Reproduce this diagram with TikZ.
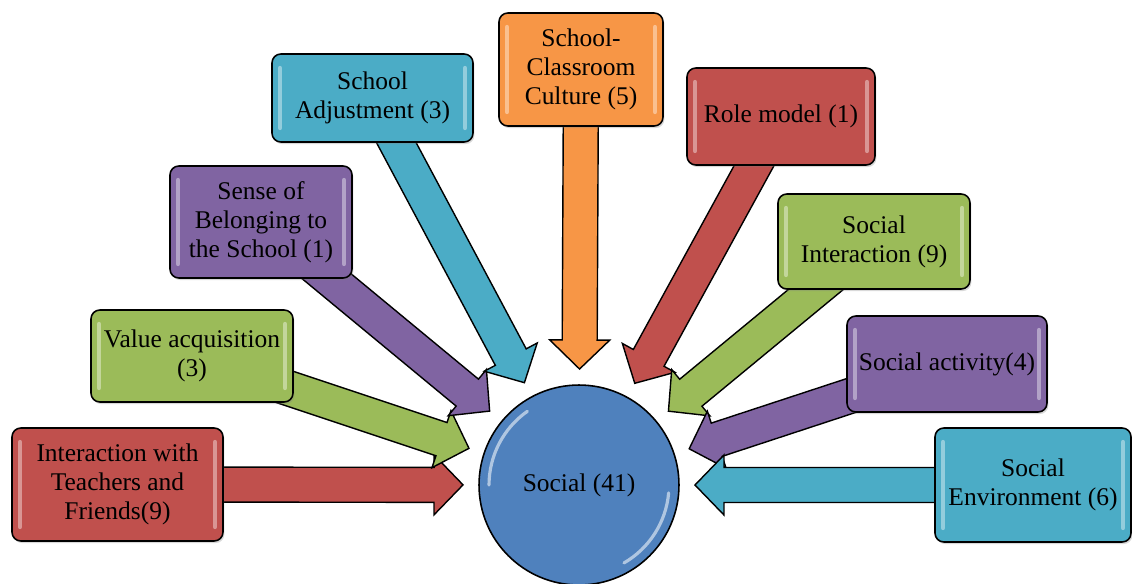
\documentclass[tikz,border=0pt]{standalone}
\usepackage{fontspec}
\setmainfont{Liberation Serif}
\usetikzlibrary{calc,shadows,backgrounds}
\definecolor{cred}{HTML}{C0504D}
\definecolor{cgreen}{HTML}{9BBB59}
\definecolor{cpurple}{HTML}{8064A2}
\definecolor{ccyan}{HTML}{4BACC6}
\definecolor{corange}{HTML}{F79646}
\definecolor{cblue}{HTML}{4F81BD}
\tikzset{
  gloss/.style={path picture={
    \draw[white, opacity=0.4, line width=2.5pt, line cap=round]
      ([xshift=4.5pt,yshift=-8pt]path picture bounding box.north west) -- ([xshift=4.5pt,yshift=8pt]path picture bounding box.south west)
      ([xshift=-4.5pt,yshift=-8pt]path picture bounding box.north east) -- ([xshift=-4.5pt,yshift=8pt]path picture bounding box.south east);
  }},
  box/.style={draw=black, line width=0.9pt, rounded corners=5pt, inner sep=0pt, align=center,
    font=\fontsize{14.5}{16.5}\selectfont, text=black,
    drop shadow={opacity=0.3, shadow xshift=0.8pt, shadow yshift=-1.2pt}, gloss},
  hub/.style={circle, draw=black, line width=0.9pt, fill=cblue, minimum size=4cm, inner sep=0pt,
    font=\fontsize{14.5}{16.5}\selectfont, text=black,
    path picture={
      \draw[white, opacity=0.55, line width=1.8pt, line cap=round]
        ($(path picture bounding box.center)+(125:1.8cm)$) arc (125:180:1.8cm);
      \draw[white, opacity=0.55, line width=1.8pt, line cap=round]
        ($(path picture bounding box.center)+(-5:1.8cm)$) arc (-5:-60:1.8cm);
    }},
  arrowline/.style={draw=black, line width=0.8pt, line join=miter},
}
\newcommand{\blockarr}[3]{%
  \coordinate (#2-base) at ($(#2)!0.58cm!(#1.center)$);
  \filldraw[arrowline, fill=#3]
    ($(#1.center)!0.35cm!90:(#2)$) -- ($(#2-base)!0.35cm!-90:(#1.center)$)
    -- ($(#2-base)!0.6cm!-90:(#1.center)$) -- (#2)
    -- ($(#2-base)!0.6cm!90:(#1.center)$) -- ($(#2-base)!0.35cm!90:(#1.center)$)
    -- ($(#1.center)!0.35cm!-90:(#2)$) -- cycle;
}
\begin{document}
\begin{tikzpicture}[x=0.02cm, y=0.02cm]
\useasboundingbox (0,0) rectangle (1132,583);
\node[hub] (soc) at (579,98) {Social (41)};
\node[box, fill=cred, minimum width=4.22cm, minimum height=2.26cm] (b1) at (117.5,98.5) {Interaction with\\Teachers and\\Friends(9)};
\node[box, fill=cgreen, minimum width=4.04cm, minimum height=1.84cm] (b2) at (192,227) {Value acquisition\\(3)};
\node[box, fill=cpurple, minimum width=3.64cm, minimum height=2.24cm] (b3) at (261,361) {Sense of\\Belonging to\\the School (1)};
\node[box, fill=ccyan, minimum width=4.02cm, minimum height=1.76cm] (b4) at (372.5,485) {School\\Adjustment (3)};
\node[box, fill=corange, minimum width=3.28cm, minimum height=2.26cm] (b5) at (581,513.5) {School-\\Classroom\\Culture (5)};
\node[box, fill=cred, minimum width=3.76cm, minimum height=1.94cm] (b6) at (781,466.5) {Role model (1)};
\node[box, fill=cgreen, minimum width=3.84cm, minimum height=1.90cm] (b7) at (874,341.5) {Social\\Interaction (9)};
\node[box, fill=cpurple, minimum width=4.00cm, minimum height=1.92cm] (b8) at (947,219) {Social activity(4)};
\node[box, fill=ccyan, minimum width=3.92cm, minimum height=2.28cm] (b9) at (1033,98) {Social\\Environment (6)};
\foreach \i in {1,...,9} {\coordinate (t\i) at ($(soc.center)!2.32cm!(b\i.center)$);}
\begin{pgfonlayer}{background}
\blockarr{b1}{t1}{cred}
\blockarr{b2}{t2}{cgreen}
\blockarr{b3}{t3}{cpurple}
\blockarr{b4}{t4}{ccyan}
\blockarr{b5}{t5}{corange}
\blockarr{b6}{t6}{cred}
\blockarr{b7}{t7}{cgreen}
\blockarr{b8}{t8}{cpurple}
\blockarr{b9}{t9}{ccyan}
\end{pgfonlayer}
\end{tikzpicture}
\end{document}
